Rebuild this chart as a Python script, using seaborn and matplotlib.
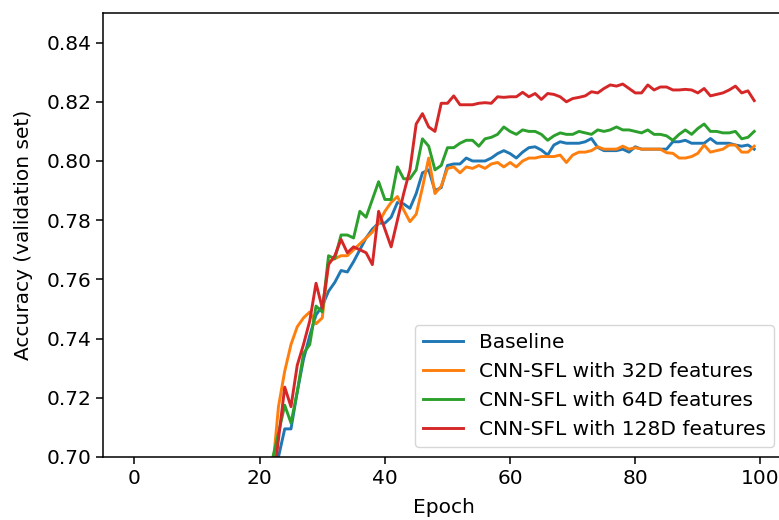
import matplotlib
matplotlib.use("Agg")
import matplotlib.pyplot as plt
import seaborn as sns
import pandas as pd

epochs = list(range(100))

baseline = [0.400, 0.460, 0.500, 0.530, 0.555, 0.575, 0.590, 0.605, 0.615, 0.625,
            0.635, 0.643, 0.650, 0.657, 0.663, 0.668, 0.673, 0.677, 0.681, 0.685,
            0.688, 0.691, 0.693, 0.700, 0.7095, 0.7095, 0.722, 0.733, 0.741, 0.748,
            0.751, 0.756, 0.759, 0.763, 0.7625, 0.766, 0.770, 0.774, 0.777, 0.779,
            0.779, 0.781, 0.786, 0.7855, 0.784, 0.789, 0.796, 0.797, 0.790, 0.791,
            0.7985, 0.799, 0.799, 0.801, 0.800, 0.800, 0.800, 0.801, 0.8025, 0.8035,
            0.8025, 0.801, 0.803, 0.8045, 0.8048, 0.8037, 0.802, 0.8054, 0.8065, 0.806,
            0.806, 0.806, 0.8065, 0.8076, 0.8046, 0.8035, 0.8035, 0.8035, 0.804, 0.803,
            0.8048, 0.804, 0.804, 0.804, 0.804, 0.804, 0.8065, 0.8065, 0.807, 0.806,
            0.806, 0.806, 0.8076, 0.806, 0.806, 0.806, 0.8054, 0.805, 0.8054, 0.804]

sfl32 = [0.450, 0.520, 0.560, 0.590, 0.610, 0.625, 0.638, 0.648, 0.656, 0.663,
         0.668, 0.673, 0.677, 0.680, 0.683, 0.686, 0.688, 0.690, 0.692, 0.693,
         0.694, 0.695, 0.694, 0.717, 0.729, 0.738, 0.744, 0.747, 0.749, 0.745,
         0.747, 0.766, 0.767, 0.768, 0.768, 0.770, 0.772, 0.774, 0.776, 0.779,
         0.783, 0.786, 0.788, 0.7835, 0.7795, 0.782, 0.791, 0.801, 0.789, 0.7915,
         0.7975, 0.798, 0.796, 0.798, 0.7975, 0.7985, 0.7975, 0.799, 0.7995, 0.798,
         0.7995, 0.798, 0.800, 0.801, 0.801, 0.8015, 0.8015, 0.8015, 0.802, 0.7995,
         0.802, 0.803, 0.803, 0.8035, 0.8048, 0.804, 0.804, 0.804, 0.805, 0.804,
         0.8045, 0.804, 0.804, 0.804, 0.804, 0.8028, 0.8026, 0.801, 0.801, 0.8015,
         0.8026, 0.8054, 0.803, 0.8035, 0.804, 0.8054, 0.8054, 0.803, 0.803, 0.805]

sfl64 = [0.380, 0.450, 0.500, 0.530, 0.555, 0.575, 0.592, 0.606, 0.617, 0.627,
         0.636, 0.644, 0.651, 0.657, 0.663, 0.668, 0.673, 0.678, 0.682, 0.686,
         0.690, 0.694, 0.699, 0.708, 0.7175, 0.7115, 0.722, 0.735, 0.738, 0.751,
         0.749, 0.768, 0.767, 0.775, 0.775, 0.774, 0.783, 0.781, 0.787, 0.793,
         0.787, 0.787, 0.798, 0.794, 0.794, 0.797, 0.8075, 0.805, 0.797, 0.7985,
         0.8045, 0.8045, 0.806, 0.807, 0.807, 0.805, 0.8075, 0.808, 0.809, 0.8115,
         0.810, 0.809, 0.8105, 0.810, 0.810, 0.809, 0.807, 0.8085, 0.8095, 0.809,
         0.809, 0.810, 0.8095, 0.809, 0.8105, 0.810, 0.8105, 0.8115, 0.8105, 0.8105,
         0.810, 0.8095, 0.8105, 0.809, 0.809, 0.8085, 0.807, 0.809, 0.8105, 0.809,
         0.811, 0.8125, 0.810, 0.810, 0.8095, 0.8095, 0.810, 0.8075, 0.808, 0.810]

sfl128 = [0.360, 0.430, 0.480, 0.520, 0.545, 0.565, 0.583, 0.598, 0.610, 0.620,
          0.630, 0.638, 0.645, 0.652, 0.658, 0.663, 0.668, 0.672, 0.676, 0.680,
          0.683, 0.686, 0.688, 0.706, 0.7236, 0.717, 0.731, 0.738, 0.746, 0.7587,
          0.7503, 0.765, 0.768, 0.7735, 0.769, 0.771, 0.770, 0.769, 0.765, 0.783,
          0.777, 0.771, 0.780, 0.789, 0.797, 0.8125, 0.816, 0.8115, 0.810, 0.8195,
          0.8195, 0.822, 0.819, 0.819, 0.819, 0.8195, 0.8197, 0.8195, 0.8217, 0.8215,
          0.8217, 0.8217, 0.8232, 0.8217, 0.8228, 0.8208, 0.8228, 0.8225, 0.8217, 0.820,
          0.8211, 0.8215, 0.822, 0.8234, 0.823, 0.8245, 0.8257, 0.8253, 0.826, 0.8245,
          0.823, 0.823, 0.8257, 0.824, 0.825, 0.825, 0.824, 0.824, 0.8242, 0.824,
          0.823, 0.8245, 0.822, 0.8225, 0.823, 0.824, 0.8253, 0.823, 0.8237, 0.8204]

series_names = ["Baseline", "CNN-SFL with 32D features",
                "CNN-SFL with 64D features", "CNN-SFL with 128D features"]
series_values = [baseline, sfl32, sfl64, sfl128]
colors = ["#1f77b4", "#ff7f0e", "#2ca02c", "#d62728"]

y_ticks = [0.70, 0.72, 0.74, 0.76, 0.78, 0.80, 0.82, 0.84]
x_ticks = [0, 20, 40, 60, 80, 100]

rows = []
for name, vals in zip(series_names, series_values):
    for e, v in zip(epochs, vals):
        rows.append({"Epoch": e, "Accuracy": v, "Model": name})
df = pd.DataFrame(rows)

FS = 14.5
plt.rcParams["font.family"] = ["DejaVu Sans"]
plt.rcParams["font.size"] = FS

fig = plt.figure(figsize=(7.79, 5.20), dpi=100)
W, H = 779, 520
ax = fig.add_axes([103.5 / W, 63 / H, 681.7 / W, 444 / H])

sns.lineplot(data=df, x="Epoch", y="Accuracy", hue="Model",
             hue_order=series_names, palette=colors, linewidth=2.1,
             ax=ax, legend=True)

ax.set_xlim(-4.95, 103.95)
ax.set_ylim(0.70, 0.85)
ax.set_xticks(x_ticks)
ax.set_yticks(y_ticks)
ax.set_yticklabels([f"{t:.2f}" for t in y_ticks])
ax.tick_params(labelsize=FS, length=5, width=1.1)
for s in ax.spines.values():
    s.set_linewidth(1.1)
ax.set_xlabel("Epoch", fontsize=FS, labelpad=7)
ax.set_ylabel("Accuracy (validation set)", fontsize=FS, labelpad=10)

handles, labels = ax.get_legend_handles_labels()
ax.legend(handles, labels, loc="lower right",
          bbox_to_anchor=(774 / W, (520 - 447) / H),
          bbox_transform=fig.transFigure, borderaxespad=0,
          fontsize=FS, framealpha=0.8)

fig.savefig("out.png", dpi=100)
